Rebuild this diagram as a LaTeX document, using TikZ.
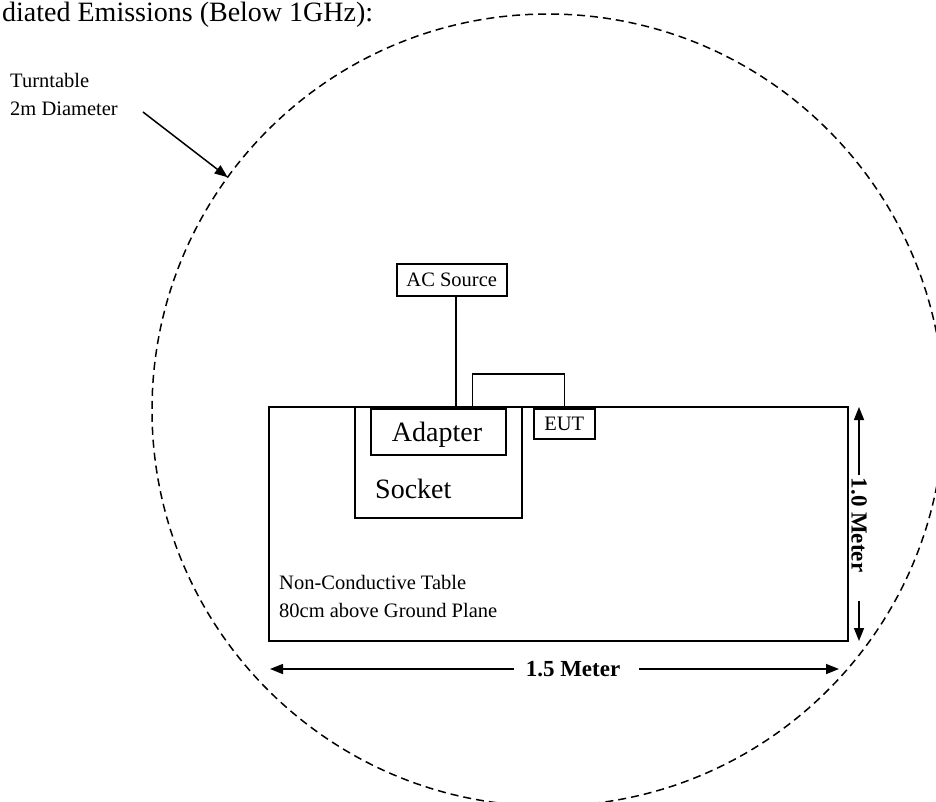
\documentclass[tikz,border=0pt]{standalone}
\usepackage{fontspec}
\setmainfont{Liberation Serif}
\usetikzlibrary{arrows.meta,positioning,calc}

\begin{document}
\begin{tikzpicture}[x=1pt, y=-1pt,
  box/.style={draw, line width=1.5pt, inner sep=0pt, anchor=north west},
  bigtxt/.style={font=\fontsize{28}{33}\selectfont, inner sep=0pt},
  smalltxt/.style={font=\fontsize{20.5}{28}\selectfont, inner sep=0pt},
  dimtxt/.style={font=\fontsize{23}{27}\selectfont\bfseries, inner sep=0pt},
  wire/.style={line width=1.5pt},
  dimarr/.style={-{Triangle[length=13pt,width=10pt]}, line width=1.5pt},
  turntable/.style={line width=1.5pt, dash pattern=on 8pt off 5pt}
]
  \useasboundingbox (0,0) rectangle (936,801);
  \clip (0,0) rectangle (936,801);

  % Title
  \node[bigtxt, anchor=base west] (title) at (2,21) {diated Emissions (Below 1GHz):};

  % Turntable
  \coordinate (tt) at (548,410);
  \draw[turntable] (tt) circle[radius=396pt];
  \node[smalltxt, anchor=base west] (ttname) at (10,87) {Turntable};
  \node[smalltxt, anchor=base west] (ttsize) at (10,115) {2m Diameter};
  \coordinate (tttail) at ($(ttsize.base east)+(25,-3)$);
  \coordinate (ttrim) at ($(tt)+(144:396pt)$);
  \draw[dimarr] (tttail) -- (ttrim);

  % Table and devices
  \node[box, line width=2pt, minimum width=579pt, minimum height=234pt] (table) at (268,406) {};
  \node[box, minimum width=167pt, minimum height=111pt] (socket) at (354,406) {};
  \node[box, minimum width=135pt, minimum height=46pt] (adapter) at (370,408) {};
  \node[bigtxt, anchor=base] (adaptertxt) at (437,441) {Adapter};
  \node[bigtxt, anchor=base west] (sockettxt) at (375,498) {Socket};
  \node[box, smalltxt, minimum width=61pt, minimum height=30pt] (eut) at (533,408) {EUT};
  \node[box, smalltxt, minimum width=110pt, minimum height=32pt] (acsrc) at (396,263) {AC Source};

  % Cables
  \draw[wire] ([xshift=4pt]acsrc.south) -- ++(0,113);
  \draw[wire] ([xshift=34pt]adapter.north) |- ([yshift=34pt]eut.north) -- (eut.north);

  % Table label
  \node[smalltxt, anchor=base west] (tblname) at (279,589) {Non-Conductive Table};
  \node[smalltxt, anchor=base west] (tblheight) at (279,617) {80cm above Ground Plane};

  % Dimensions
  \coordinate (vtop) at (859,407);
  \coordinate (vbot) at (859,641);
  \node[dimtxt, rotate=-90] (vlab) at (859,525) {1.0 Meter};
  \draw[dimarr, shorten <=3pt] (vlab.west) -- (vtop);
  \draw[dimarr, shorten <=29pt] (vlab.east) -- (vbot);

  \coordinate (hleft) at (270,669);
  \coordinate (hright) at (839,669);
  \node[dimtxt] (hlab) at (573,669) {1.5 Meter};
  \draw[dimarr, shorten <=12pt] (hlab.west) -- (hleft);
  \draw[dimarr, shorten <=19pt] (hlab.east) -- (hright);
\end{tikzpicture}
\end{document}
